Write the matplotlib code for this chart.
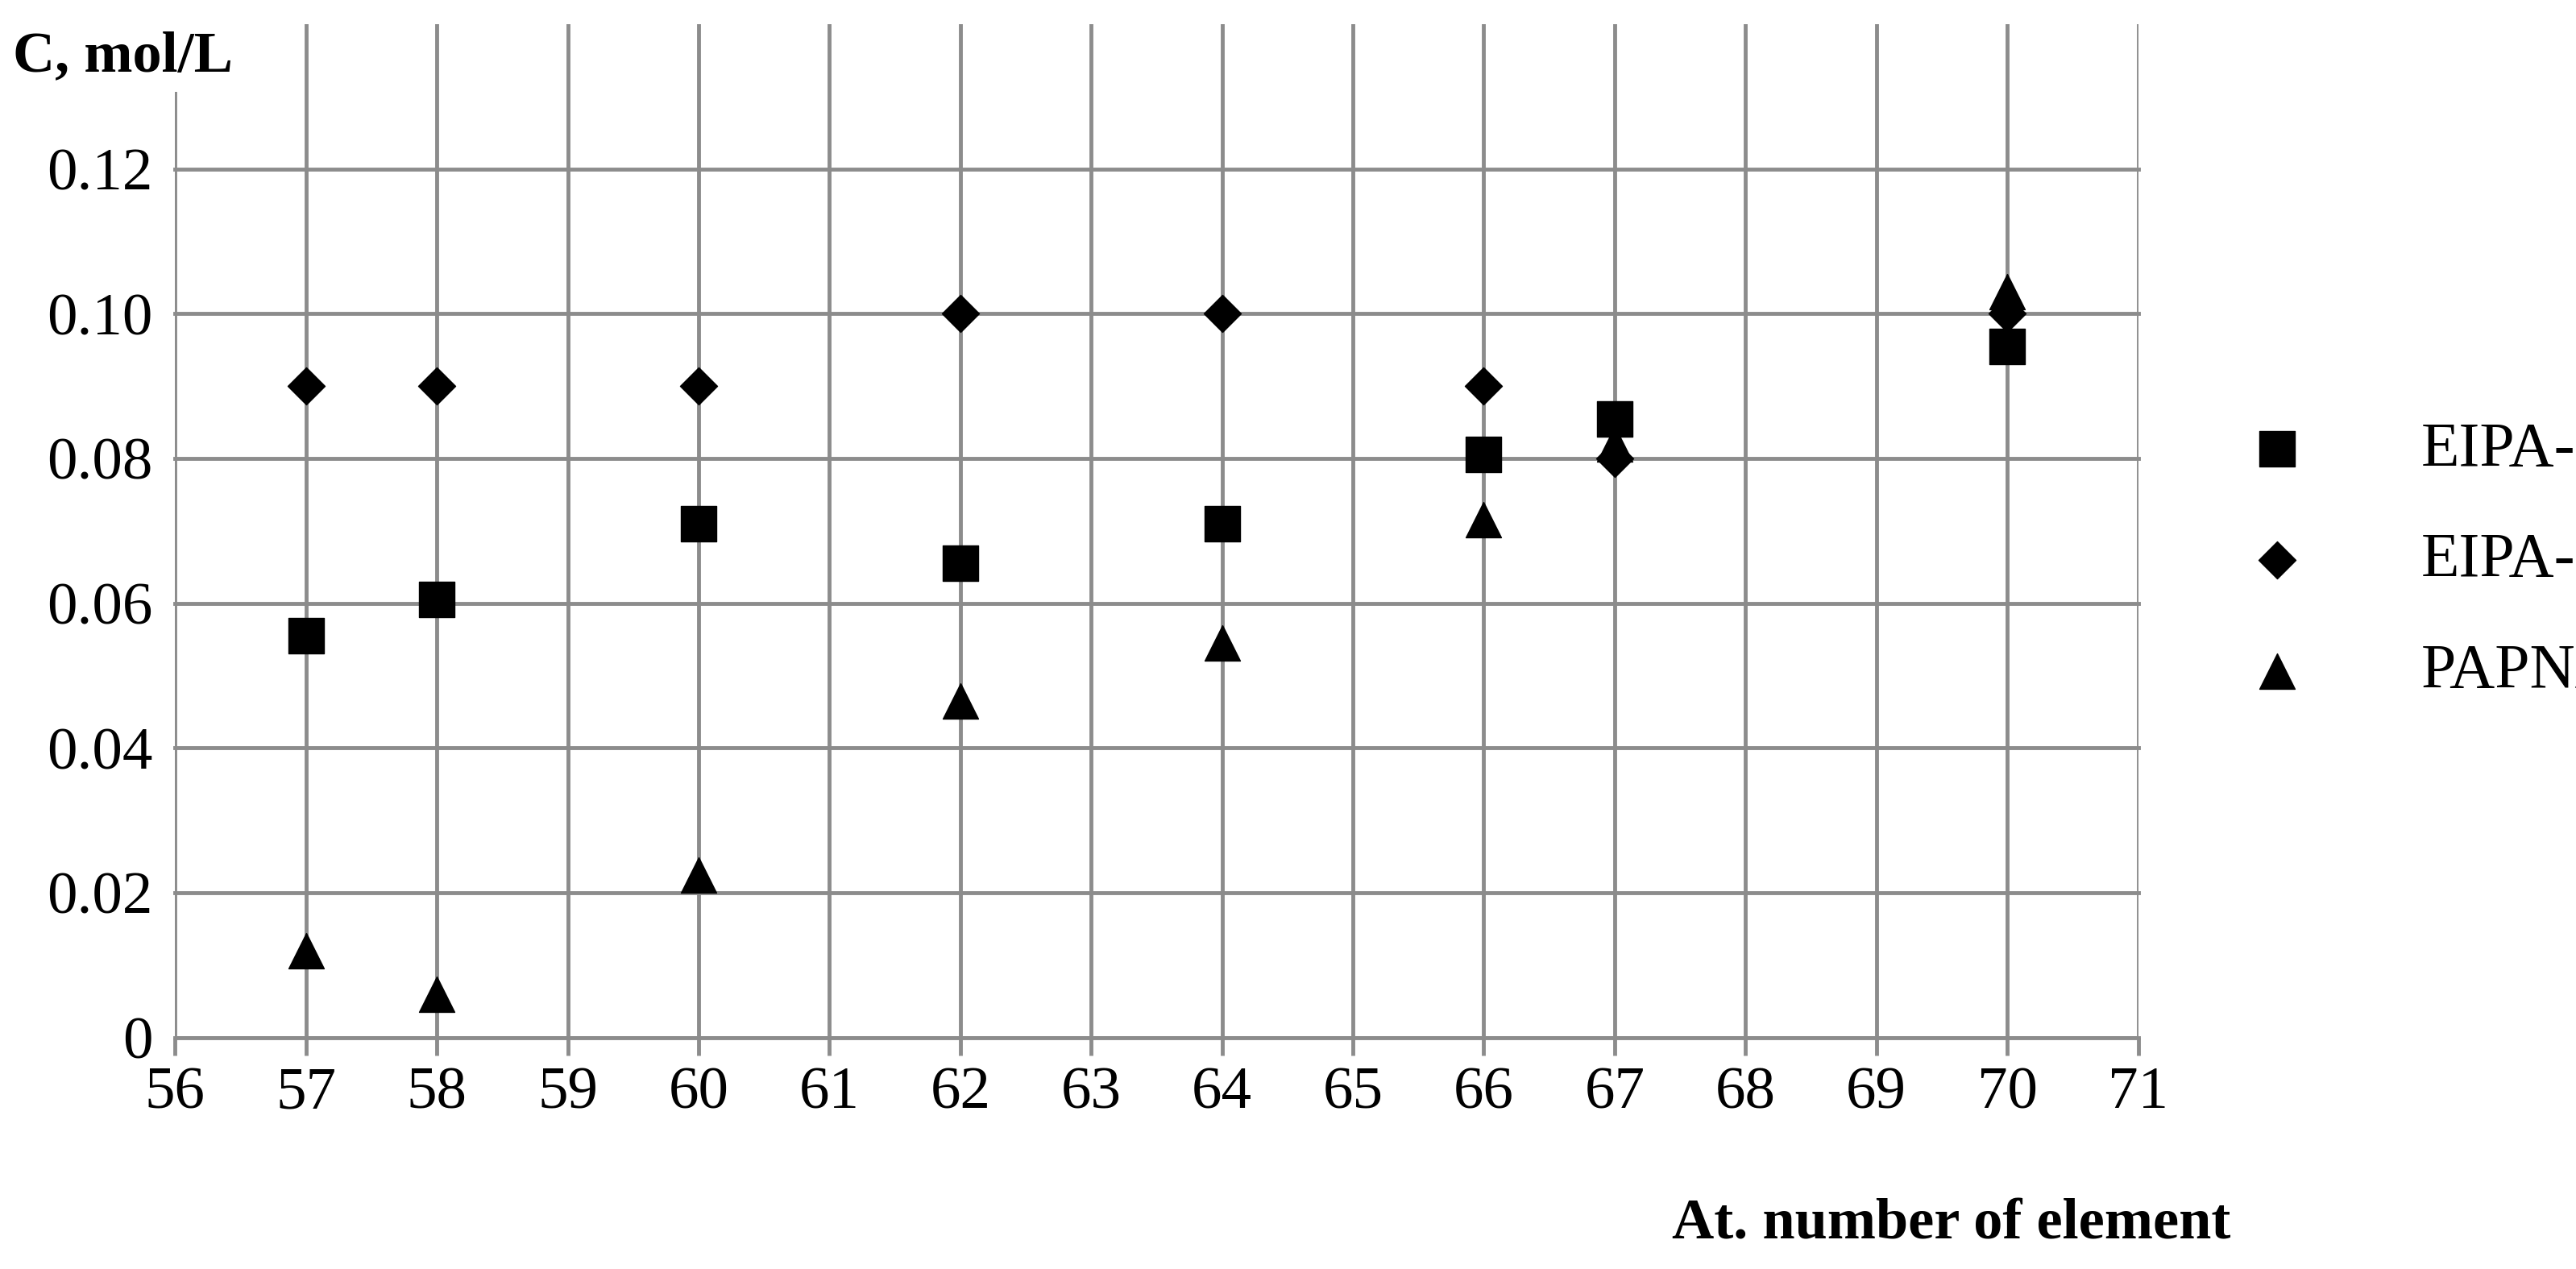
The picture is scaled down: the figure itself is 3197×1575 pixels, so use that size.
import matplotlib
matplotlib.use("Agg")
import matplotlib.pyplot as plt

x = [57, 58, 60, 62, 64, 66, 67, 70]
eipa1 = [0.0555, 0.0605, 0.071, 0.0655, 0.071, 0.0805, 0.0855, 0.0955]
eipa2 = [0.090, 0.090, 0.090, 0.100, 0.100, 0.090, 0.080, 0.100]
papna = [0.012, 0.006, 0.0225, 0.0465, 0.0545, 0.0715, 0.082, 0.103]
xticks = list(range(56, 72))
yticks = [0, 0.02, 0.04, 0.06, 0.08, 0.10, 0.12]
ylabels = ["0", "0.02", "0.04", "0.06", "0.08", "0.10", "0.12"]

plt.rcParams['font.family'] = ['Liberation Serif', 'DejaVu Serif']
fig = plt.figure(figsize=(31.97, 15.75), dpi=100)
ax = fig.add_axes([0.068, 0.1824, 0.762, 0.7986])
ax.set_xlim(56, 71)
ax.set_ylim(0, 0.14)
for t in xticks:
    ax.axvline(t, color='#8c8c8c', lw=3.5, zorder=0)
for t in yticks:
    ax.plot([56, 71], [t, t], color='#8c8c8c', lw=3.5, zorder=0, clip_on=False)
for s in ax.spines.values():
    s.set_visible(False)
ax.plot([56, 71], [0, 0], color='#8c8c8c', lw=3.5, zorder=1)
ax.set_xticks(xticks)
ax.set_xticklabels([str(t) for t in xticks])
ax.set_yticks(yticks)
ax.set_yticklabels(ylabels)
ax.tick_params(axis='x', length=16, width=3.5, color='#8c8c8c', labelsize=54, pad=10)
ax.tick_params(axis='y', length=0, labelsize=54, pad=20)

ax.scatter(x, eipa1, marker='s', s=1000, color='black', label='EIPA-1', zorder=3)
ax.scatter(x, eipa2, marker='D', s=550, color='black', label='EIPA-2', zorder=3)
ax.scatter(x, papna, marker='^', s=1000, color='black', label='PAPNA', zorder=3)

leg = ax.legend(loc='center left', bbox_to_anchor=(1.01, 0.47), frameon=False,
                fontsize=56, labelspacing=0.85, handletextpad=1.3)

fig.text(0.005, 0.955, "C, mol/L", fontsize=52, fontweight='bold', ha='left', va='center',
         bbox=dict(facecolor='white', edgecolor='none', pad=8))
fig.text(0.866, 0.035, "At. number of element", fontsize=52, fontweight='bold',
         ha='right', va='center')
fig.savefig("out.png", dpi=100, facecolor='white')
